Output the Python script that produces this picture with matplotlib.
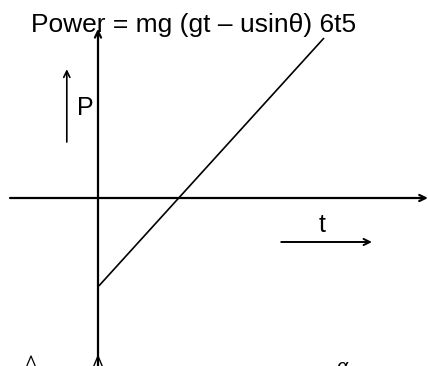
import matplotlib
matplotlib.use("Agg")
import matplotlib.pyplot as plt

plt.rcParams['font.family'] = ['Liberation Sans', 'DejaVu Sans']

# Diagram data (arbitrary units, origin at axes crossing)
line_t = [0.02, 5.65]
line_P = [-2.2, 4.0]
x_axis_t = [-2.2, 8.25]
y_axis_P = [-4.3, 4.23]
p_arrow_t = -0.78
p_arrow_P = [1.4, 3.22]
t_arrow_t = [4.58, 6.85]
t_arrow_P = -1.1
title_text = "Power = mg (gt \u2013 usin\u03b8) 6t5"

fig = plt.figure(figsize=(4.28, 3.66), dpi=100)
ax = fig.add_axes([0, 0, 1, 1])
ax.set_xlim(-2.45, 8.25)
ax.set_ylim(-4.2, 4.95)
ax.axis('off')

k = dict(color='black', lw=1.6, shrinkA=0, shrinkB=0)
head = '->,head_length=0.45,head_width=0.22'
# main axes
ax.annotate('', xy=(x_axis_t[1], 0), xytext=(x_axis_t[0], 0),
            arrowprops=dict(arrowstyle=head, **k))
ax.annotate('', xy=(0, y_axis_P[1]), xytext=(0, y_axis_P[0]),
            arrowprops=dict(arrowstyle=head, **k))
# graph line
ax.plot(line_t, line_P, color='black', lw=1.2, solid_capstyle='butt')
# P arrow
ax.annotate('', xy=(p_arrow_t, p_arrow_P[1]), xytext=(p_arrow_t, p_arrow_P[0]),
            arrowprops=dict(arrowstyle=head, color='black', lw=1.2, shrinkA=0, shrinkB=0))
ax.text(-0.1, 2.25, 'P', fontsize=18, ha='right', va='center')
# t arrow
ax.annotate('', xy=(t_arrow_t[1], t_arrow_P), xytext=(t_arrow_t[0], t_arrow_P),
            arrowprops=dict(arrowstyle=head, color='black', lw=1.4, shrinkA=0, shrinkB=0))
ax.text(5.6, -0.68, 't', fontsize=18, ha='center', va='center')
# title
ax.text(-1.68, 4.33, title_text, fontsize=19, ha='left', va='center')

# bottom fragments
ax.plot([-1.78, -1.675, -1.57], [-4.2, -3.95, -4.2], color='black', lw=0.9)
ax.plot([-0.105, 0, 0.105], [-4.2, -3.95, -4.2], color='black', lw=1.0)
ax.text(6.1, -4.25, '\u03b1', fontsize=14, ha='center', va='center', style='italic')

fig.savefig('out.png', dpi=100)
